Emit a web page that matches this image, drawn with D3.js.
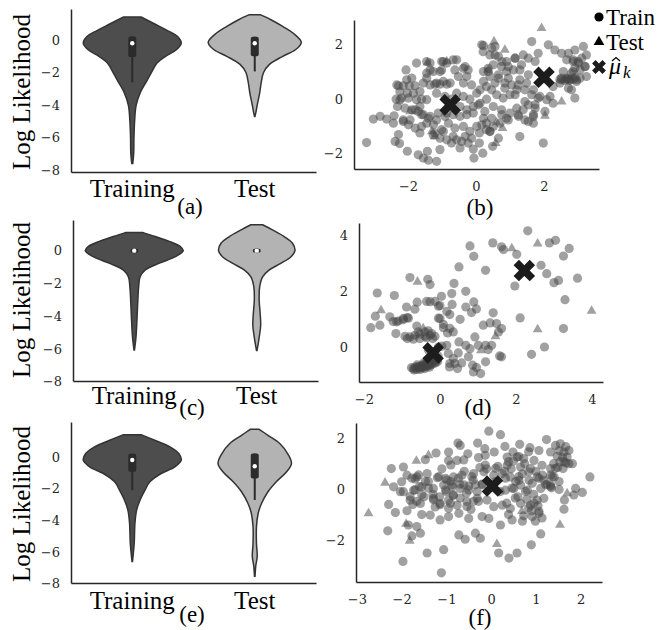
<!DOCTYPE html>
<html>
<head>
<meta charset="utf-8">
<script src="https://cdn.jsdelivr.net/npm/d3@7"></script>
<style>
  body { margin: 0; background: #fff; }
  svg { display: block; }
</style>
</head>
<body>
<svg id="chart" width="657" height="630"></svg>
<script>
// ---- data ----
const groups = ['Training', 'Test'];
const violinTicks = [0, -2, -4, -6, -8];

// violin outlines: [log likelihood, relative half-width]
const profA_train = [[1.42,0.18],[1.0,0.45],[0.6,0.71],[0.2,0.93],[-0.2,1.0],[-0.6,0.9],[-1.0,0.68],[-1.4,0.51],[-2.0,0.39],[-2.6,0.28],[-3.2,0.17],[-4.0,0.08],[-4.9,0.05],[-6.0,0.035],[-6.95,0.03],[-7.6,0.01]];
const profA_test = [[1.56,0.11],[1.25,0.33],[0.84,0.57],[0.43,0.78],[-0.14,0.95],[-0.6,0.83],[-1.0,0.57],[-1.5,0.3],[-2.0,0.18],[-2.65,0.13],[-3.26,0.1],[-4.0,0.05],[-4.5,0.02],[-4.7,0.005]];
const profC_train = [[1.1,0.18],[0.86,0.43],[0.55,0.73],[0.25,0.94],[0,1.0],[-0.37,0.84],[-0.78,0.5],[-1.19,0.22],[-1.6,0.12],[-2.2,0.09],[-3.24,0.07],[-4.26,0.055],[-5.3,0.035],[-6.06,0.005]];
const profC_test = [[1.58,0.12],[1.27,0.32],[0.86,0.56],[0.45,0.73],[0,0.78],[-0.37,0.7],[-0.78,0.49],[-1.19,0.25],[-1.6,0.12],[-2.2,0.06],[-3.03,0.05],[-3.85,0.07],[-4.57,0.08],[-5.29,0.05],[-6.1,0.005]];
const profE_train = [[1.4,0.18],[1.05,0.46],[0.63,0.77],[0.21,0.95],[-0.21,1.0],[-0.63,0.87],[-1.05,0.59],[-1.57,0.36],[-2.1,0.26],[-2.72,0.16],[-3.35,0.09],[-4.19,0.055],[-5.45,0.04],[-6.6,0.005]];
const profE_test = [[1.74,0.09],[1.36,0.27],[0.84,0.51],[0.21,0.67],[-0.42,0.75],[-0.94,0.65],[-1.57,0.44],[-2.2,0.27],[-2.93,0.14],[-3.56,0.07],[-4.4,0.035],[-5.45,0.035],[-6.28,0.05],[-6.9,0.02],[-7.54,0.005]];

// inner boxes: [whisker low, q1, median, q3, whisker high]
const boxA_train = [-2.6, -1.05, -0.2, 0.22, 0.22];
const boxA_test = [-1.93, -1.0, -0.2, 0.2, 0.2];
const boxC_train = [-0.15, -0.12, 0, 0.12, 0.15];
const boxC_test = [-0.15, -0.12, 0, 0.12, 0.15];
const boxE_train = [-2.1, -0.94, -0.2, 0.2, 0.2];
const boxE_test = [-2.72, -1.36, -0.59, 0.21, 0.21];

// scatter (b)
const trainB = [
  [-3.22,-1.59],[-3.02,-0.73],[-2.82,-0.63],[-2.63,-0.73],[-2.41,-0.61],[-2.38,-1.55],[-2.28,-1.30],[-2.25,-1.63],[-2.02,-1.91],[-1.70,-2.04],
  [-1.55,-2.16],[-1.40,-2.24],[-1.16,-2.28],[-1.43,-1.91],[-1.06,-1.85],[-0.72,-1.61],[-0.47,-1.79],[-0.23,-1.61],[-0.06,-2.16],[-0.08,-1.83],
  [0.20,-1.98],[0.49,-1.73],[0.10,-1.61],
  [-2.28,0.49],[-2.14,0.49],[-1.96,0.49],[-1.79,0.49],[-1.55,0.59],[-1.35,0.52],[-1.16,0.59],[-0.96,0.65],[-0.76,0.59],
  [-2.35,0.00],[-2.19,0.04],[-1.99,0.04],[-1.75,-0.02],[-1.60,0.00],[-1.45,-0.02],
  [-2.24,0.28],[-2.02,0.22],[-1.84,0.22],[-1.65,0.28],
  [-2.31,-0.27],[-2.09,-0.33],[-1.89,-0.39],[-1.65,-0.27],
  [-2.06,1.07],[-1.75,1.32],[-1.45,1.38],[-1.35,1.07],[-1.01,1.38],[-0.86,1.32],[-0.67,1.44],[-0.37,1.13],[-0.23,1.07],[-0.62,1.07],
  [-1.06,1.01],[-1.45,0.77],[-1.89,0.77],[-2.04,0.71],
  [-1.70,-0.45],[-1.55,-0.57],[-1.35,-0.63],[-1.11,-0.51],[-0.86,-0.51],[-0.67,-0.57],[-0.47,-0.63],[-0.27,-0.57],[-0.08,-0.51],
  [-2.14,-0.76],[-1.99,-0.94],[-1.79,-1.06],[-1.60,-1.00],[-1.45,-0.88],[-1.25,-0.94],[-1.01,-1.12],[-0.81,-0.88],[-0.62,-1.06],[-0.37,-1.00],[-0.18,-1.18],
  [-1.65,-1.24],[-1.21,-1.24],[-1.06,-1.43],[-0.86,-1.49],[-0.57,-1.49],[-0.32,-1.37],[-0.13,-1.43],[0.10,-1.24],[0.31,-1.12],
  [-1.16,0.22],[-0.91,0.10],[-0.72,0.00],[-0.57,0.22],[-0.37,0.10],[-0.18,0.00],[-0.47,-0.27],[-0.27,-0.39],[-0.08,-0.27],[0.12,-0.15],
  [0.31,0.00],[0.02,0.22],[-0.13,0.52],[-0.37,0.59],[-0.52,0.83],[-0.27,0.83],
  [-2.33,0.52],[-2.24,-0.03],[-1.21,0.55],[-1.06,0.55],[-0.86,0.55],[-1.45,0.95],[-1.26,1.01],[-1.01,1.07],[-1.35,1.32],[-0.96,1.38],
  [-0.57,1.44],[-0.32,1.19],[-1.79,-0.39],[-1.60,-0.57],[-1.40,-0.70],[-1.16,-0.76],[-0.91,-0.64],[-1.26,-1.31],[-0.96,-1.19],[-0.67,-1.37],
  [-0.42,-1.55],[-2.14,-0.82],[-1.94,-0.76],[-2.43,-0.88],
  [0.22,1.96],[0.46,1.87],[0.41,1.62],[0.66,1.56],[0.90,1.38],[1.15,1.50],[1.39,1.62],[1.64,2.11],[1.83,1.68],[2.13,1.99],
  [2.32,1.80],[2.52,1.68],[2.72,1.68],[2.91,1.80],[3.16,1.93],[3.25,1.62],[2.86,1.38],[2.67,1.44],[3.01,1.32],[3.21,1.20],
  [3.06,1.07],[3.25,0.83],[2.86,1.01],[2.57,1.01],[2.67,0.77],[2.47,0.73],[2.76,0.71],[2.96,0.65],[2.81,0.34],[2.91,0.04],
  [2.72,0.40],[2.47,0.59],[2.27,0.46],[2.18,0.10],[2.27,-0.15],[2.08,-0.02],[1.88,0.10],[1.69,0.34],[1.49,0.59],[1.29,0.71],
  [1.54,0.89],[1.29,1.07],[1.10,1.07],[0.90,1.01],[0.75,1.20],[0.51,1.26],[0.36,1.13],[0.22,1.01],[0.41,0.83],[0.66,0.77],
  [0.85,0.59],[1.05,0.52],[1.20,0.34],[1.00,0.16],[0.80,0.04],[0.61,0.16],[0.46,0.34],[0.31,0.46],[0.22,0.65],[0.12,0.34],
  [0.51,-0.27],[0.75,-0.39],[1.00,-0.51],[1.20,-0.33],[1.39,-0.39],[1.54,-0.21],[1.74,-0.33],[1.69,-0.57],[1.44,-0.76],[1.25,-0.63],
  [0.90,-0.70],[0.71,-0.88],[0.51,-1.00],[0.31,-0.88],[0.22,-0.70],[0.02,-1.00],[0.41,-1.18],[1.29,-1.37],[1.98,-1.61],[1.69,-0.88],
  [1.83,0.04],
  [2.67,0.73],[2.86,0.73],[3.06,0.77],[2.52,0.71],[2.62,0.68],[2.76,0.68],[2.96,0.71],
  [2.52,0.77],[2.72,0.74],[2.91,0.79],[2.81,0.95],[3.01,1.38],[2.86,1.44],[3.11,1.50],[3.21,1.19],[2.91,1.14],
  [0.17,1.99],[0.56,1.93],[0.21,1.74],[0.56,1.62],[0.76,1.38],[0.95,1.19],[1.15,1.50],[1.34,1.26],[1.54,1.50],[1.74,1.38],
  [0.36,1.01],[0.66,0.89],[0.95,0.77],[1.24,0.52],[1.44,0.34],[1.64,0.16],[0.85,0.40],[0.56,0.59],[1.15,0.16],[1.44,-0.09],
  [1.74,-0.21],[2.03,-0.45],[0.07,-0.21],[0.26,-0.45],[0.46,-0.70],[0.76,-0.57],[0.17,-0.94],[0.41,-1.19],[0.66,-1.43],[0.95,-0.76],
  [1.24,-0.57],[1.54,-0.82],[1.69,-0.64]
];
const testB = [[1.93,2.60],[0.53,2.11],[0.85,1.80],[0.36,1.07],[2.52,-0.09],[2.03,-0.61],[0.61,-0.85],[0.78,-1.06],[0.58,-1.61],[-1.43,1.34],[-0.86,1.38],[-1.30,-1.18],[-1.21,-1.37],[-1.94,-0.45]];
const meansB = [[-0.76,-0.21],[2.0,0.8]];

// scatter (d)
const trainD = [
  [2.31,4.17],[0.79,3.63],[0.89,3.26],[1.39,3.74],[1.62,3.60],[1.67,3.50],[2.02,3.33],[2.88,3.74],[3.04,3.83],[3.40,3.54],
  [3.25,3.27],[2.66,2.94],[2.81,2.64],[3.00,2.32],[3.12,2.40],[3.62,2.48],[3.29,1.71],[1.97,2.20],[2.11,1.06],[3.25,0.68],
  [2.75,0.02],[2.41,-0.24],[1.20,2.76],[0.50,2.88],
  [-1.65,1.95],[-1.20,1.86],[-0.79,2.50],[-0.32,2.44],[-0.26,2.25],[0.37,2.29],[0.68,2.01],[0.31,1.93],[0.04,1.83],[-0.35,1.65],
  [-0.60,1.62],[-0.13,1.65],[-0.04,1.48],[0.32,1.54],[0.68,1.45],[0.89,1.63],[0.96,1.38],[0.83,1.25],[-0.88,1.45],[-0.66,1.37],
  [-1.32,1.10],[-1.14,0.92],[-0.96,1.04],[-0.86,1.07],[-1.70,1.12],[-1.58,0.80],[-1.82,0.71],[-1.16,0.50],[-0.61,0.77],[-0.31,0.60],
  [0.00,1.04],[0.09,0.71],[0.26,1.18],[0.53,1.01],[0.35,0.56],[0.20,0.52],[0.92,0.38],[1.14,0.80],[1.40,1.24],[1.32,0.88],
  [1.49,0.86],[1.62,0.68],[1.54,0.56],[0.50,0.20],[0.68,0.08],[0.79,-0.04],[1.01,0.08],[1.20,0.08],[1.36,0.08],[1.27,-0.07],
  [1.57,-0.30],[1.62,-0.33],[0.75,-0.33],[0.48,-0.19],[0.22,-0.21],[0.35,-0.39],[0.18,0.08],[-0.04,0.02],[0.26,-0.57],[0.39,-0.57],
  [0.57,-0.55],[0.25,-0.69],[0.46,-0.75],[0.86,-0.63],[0.96,-0.71],[0.88,-0.87],[1.07,-0.93],[1.20,-0.51],
  [-0.92,0.40],[-0.79,0.38],[-0.66,0.44],[-0.53,0.48],[-0.39,0.40],[-0.26,0.44],[-0.13,0.40],[-0.86,0.32],[-0.70,0.30],[-0.53,0.32],
  [-0.35,0.35],[-0.19,0.32],[-0.57,0.56],[-0.39,0.56],[-0.22,0.50],
  [-1.23,0.93],[-1.10,0.95],[-0.97,0.99],[-0.83,1.05],[-0.26,1.64],[0.00,1.50],[0.18,1.29],[-0.04,1.05],[0.09,0.83],[0.26,0.69],
  [-0.75,-0.72],[-0.70,-0.75],[-0.65,-0.70],[-0.62,-0.78],[-0.58,-0.68],[-0.55,-0.74],[-0.50,-0.66],[-0.48,-0.72],[-0.45,-0.62],[-0.42,-0.70],
  [-0.38,-0.60],[-0.36,-0.68],[-0.32,-0.58],[-0.30,-0.65],[-0.26,-0.55],[-0.24,-0.62],[-0.20,-0.52],[-0.18,-0.58],[-0.14,-0.48],[-0.12,-0.55],
  [-0.08,-0.44],[-0.06,-0.50],[-0.68,-0.80],[-0.52,-0.78],[-0.40,-0.75],[-0.28,-0.70],[-0.60,-0.62],[-0.44,-0.56],[-0.34,-0.50],[-0.22,-0.45],
  [-0.10,-0.38],[-0.56,-0.70],[-0.46,-0.66],[-0.36,-0.62],[-0.26,-0.60],
  [-0.30,-0.10],[-0.05,-0.30],[0.05,0.05]
];
const testD = [[2.57,3.71],[1.89,3.54],[3.99,1.31],[2.57,0.65],[-0.59,2.35],[-1.55,1.33],[-0.44,0.68],[1.46,0.40],[1.08,-0.10]];
const meansD = [[-0.18,-0.19],[2.22,2.75]];

// scatter (f)
const trainF = [
  [-2.31,-1.64],[-1.97,-2.84],[-1.11,-3.29],[-1.06,-2.38],[-1.43,-2.51],[-1.77,-1.84],[-1.58,-1.73],[-0.72,-1.80],[-0.58,-1.97],[-0.35,-1.73],
  [-0.24,-1.93],[0.17,-2.51],[0.40,-2.71],[0.58,-2.51],[0.90,-2.19],[1.11,-1.76],[-0.05,2.28],[0.21,2.14],[1.24,1.95],[2.21,0.48],
  [2.04,-0.13],[1.89,0.03],[1.85,-0.23],[1.64,-0.43],[1.63,-0.79],[-2.29,-0.60],[-2.23,0.81],[-2.18,0.09],[-1.96,0.87],[-2.00,0.29],
  [-2.03,-0.10],[-2.14,-0.92],[-1.88,-0.85],[-1.85,-1.41],[-1.66,-1.47],[-1.47,1.16],[-1.23,1.42],[-0.95,1.46],[-0.74,1.81],[-0.69,1.72],
  [-0.52,1.39],[-0.30,1.81],[-0.14,1.59],[0.07,1.46],[0.31,1.68],[0.49,1.46],[0.64,1.76],[0.87,1.63],[1.07,1.52],[1.33,1.46],
  [1.44,1.72],[1.55,1.78],[1.67,1.67],[1.52,1.52],[1.63,1.46],[1.74,1.52],[1.48,1.29],[1.60,1.24],[1.70,1.26],[1.54,1.07],
  [1.67,1.03],[1.40,1.00],[1.74,1.00],[1.49,0.85],[1.61,0.81],[1.82,1.00],
  [-0.95,1.13],[-0.76,1.13],[-0.61,1.15],[-0.28,1.24],[-0.13,1.33],[0.36,1.26],[0.58,1.26],[0.73,1.20],[0.96,1.13],[0.36,0.94],
  [0.66,0.87],[0.88,0.81],[1.14,0.94],[1.33,0.81],
  [-1.88,0.55],[-1.66,0.48],[-1.43,0.61],[-1.02,0.42],[-0.84,0.48],[-0.65,0.55],[-0.39,0.61],[-0.16,0.68],[0.06,0.55],[0.25,0.61],
  [0.43,0.48],[0.62,0.35],[0.84,0.68],[1.03,0.48],[1.18,0.35],[1.33,0.55],[1.41,0.48],
  [-1.96,-0.10],[-1.73,-0.04],[-1.55,0.09],[-1.29,0.03],[-1.06,0.16],[-0.87,0.09],[-0.69,0.03],[-0.50,0.12],[-0.31,-0.10],[0.32,-0.04],
  [0.51,0.03],[0.66,0.16],[0.81,-0.04],[1.11,0.03],[1.33,0.16],[1.52,-0.01],
  [-1.81,-0.43],[-1.58,-0.56],[-1.29,-0.36],[-1.14,-0.56],[-0.95,-0.43],[-0.76,-0.63],[-0.54,-0.49],[-0.31,-0.36],[-0.09,-0.43],[0.06,-0.69],
  [0.25,-0.63],[0.43,-0.76],[0.66,-0.56],[0.88,-0.63],[1.03,-0.43],[1.18,-0.36],
  [-1.36,-1.02],[-1.14,-1.21],[-0.95,-1.08],[-0.72,-0.95],[-0.50,-1.15],[-0.20,-1.08],[-0.05,-1.15],[0.21,-1.41],[0.47,-1.21],[0.73,-1.05],
  [0.92,-1.08],[1.07,-0.95],
  [-1.30,-0.20],[-1.15,-0.30],[-1.00,-0.10],[-0.85,-0.25],[-1.40,0.30],[-1.20,0.45],[-0.90,0.30],[-0.70,0.20],[-0.55,-0.15],[-0.40,0.35],
  [-0.20,0.20],[-0.10,0.80],[-0.25,0.85],[0.15,0.90],[0.30,0.70],[0.45,0.80],[0.55,0.30],[0.70,0.60],[0.85,0.35],[1.00,0.70],
  [1.15,0.55],[0.95,-0.20],[0.80,-0.40],[1.05,-0.65],[0.90,-0.85],[0.60,-0.30],[0.35,-0.55],[-1.60,0.10],[-1.70,0.40],[-1.50,-0.30],
  [-1.75,-0.60],[-1.55,-1.00],[-1.25,-0.70],[-0.95,-0.75],[-0.45,-0.80],[-0.60,0.70],[-0.90,0.95],[-1.10,0.80],[0.10,0.30],[0.20,-0.10],
  [1.25,0.20],[1.35,0.05],[0.50,1.10],[0.75,1.00],
  [-1.77,0.43],[-1.62,0.56],[-1.47,0.30],[-1.70,-0.03],[-1.55,-0.22],[-1.40,0.04],[-1.29,-0.42],[-1.66,-0.48],[-1.81,-0.29],[-1.17,0.49],
  [-0.99,0.36],[-0.87,0.17],[-1.02,-0.03],[-0.84,-0.22],[-1.14,-0.61],[-0.91,-0.55],[-0.73,0.43],[-0.61,0.17],[-0.50,-0.03],[-0.69,-0.35],
  [-0.54,-0.68],[-0.39,-0.48],[-0.35,0.17],[-0.43,0.49],
  [-0.20,0.17],[-0.28,-0.48],[0.32,0.43],[0.47,0.04],[0.62,0.49],[0.77,-0.09],[0.92,0.23],[1.07,0.43],[1.22,0.17],[1.37,0.49],
  [1.52,0.30],[0.96,-0.55],[0.84,-0.74],[1.07,-0.87],[0.54,-0.35],[0.39,-1.00],[0.70,-1.26],[0.99,-1.26],[1.14,-1.13],[1.33,0.10],
  [1.63,1.08],[1.44,0.82],[-0.13,0.95],[0.10,0.82],[0.39,1.08],[0.62,1.28],[0.84,1.47]
];
const testF = [[-2.74,-0.95],[-2.37,0.25],[-1.82,-2.03],[0.13,-2.16],[1.54,-1.41],[1.70,-0.17],[-1.67,1.11],[-1.40,1.33],[-1.90,-1.37],[0.69,-0.87]];
const meansF = [[0.03,0.12]];

// ---- layout ----
const svg = d3.select('#chart');
const serif = "'Liberation Serif', 'Times New Roman', serif";
const tickFont = "'DejaVu Serif', serif";
const ink = '#262626';
const pointColor = '#444';
const intFmt = d3.format('d');

const violinPanels = [
  { left: 71, right: 316, top: 9, bottom: 172, yDomain: [-8.12, 1.91], catY: 197, titleY: 92,
    label: '(a)', labelX: 190, labelY: 214,
    series: [[profA_train, boxA_train], [profA_test, boxA_test]] },
  { left: 73, right: 318, top: 220, bottom: 381, yDomain: [-7.96, 1.87], catY: 404, titleY: 300,
    label: '(c)', labelX: 192, labelY: 415,
    series: [[profC_train, boxC_train], [profC_test, boxC_test]] },
  { left: 71, right: 316, top: 422, bottom: 583, yDomain: [-7.96, 2.2], catY: 609, titleY: 504,
    label: '(e)', labelX: 192, labelY: 622,
    series: [[profE_train, boxE_train], [profE_test, boxE_test]] }
];

const scatterPanels = [
  { left: 354, right: 599, top: 20, bottom: 169, xDomain: [-3.59, 3.62], yDomain: [-2.56, 2.9],
    xTicks: [-2, 0, 2], yTicks: [-2, 0, 2], label: '(b)', labelX: 480, labelY: 215,
    train: trainB, test: testB, means: meansB },
  { left: 359, right: 603, top: 223, bottom: 382, xDomain: [-2.13, 4.29], yDomain: [-1.23, 4.45],
    xTicks: [-2, 0, 2, 4], yTicks: [0, 2, 4], label: '(d)', labelX: 478, labelY: 415,
    train: trainD, test: testD, means: meansD },
  { left: 356, right: 602, top: 423, bottom: 582, xDomain: [-3.02, 2.48], yDomain: [-3.65, 2.6],
    xTicks: [-3, -2, -1, 0, 1, 2], yTicks: [-2, 0, 2], label: '(f)', labelX: 480, labelY: 625,
    train: trainF, test: testF, means: meansF }
];

const fills = ['#4d4d4d', '#b3b3b3'];

const styleAxis = (g) => {
  g.attr('font-family', null);
  g.select('.domain').attr('stroke', ink).attr('stroke-width', 1.5);
  g.selectAll('.tick line').remove();
  g.selectAll('.tick text')
    .attr('fill', ink)
    .attr('font-family', tickFont)
    .style('font-family', tickFont)
    .style('font-size', '13px');
};

const drawViolinPanel = (p) => {
  const y = d3.scaleLinear().domain(p.yDomain).range([p.bottom, p.top]);
  const x = d3.scaleBand().domain(groups).range([p.left, p.right]).padding(0);
  const half = d3.scaleLinear().domain([0, 1]).range([0, x.bandwidth() * 0.4]);
  const g = svg.append('g');

  p.series.forEach(([profile, box], i) => {
    const cx = x(groups[i]) + x.bandwidth() / 2;
    const area = d3.area()
      .curve(d3.curveCatmullRom.alpha(0.5))
      .y((d) => y(d[0]))
      .x0((d) => cx - half(d[1]))
      .x1((d) => cx + half(d[1]));

    g.append('path')
      .datum(profile)
      .attr('d', area)
      .attr('fill', fills[i])
      .attr('stroke', '#333')
      .attr('stroke-width', 1.5);

    // whisker + box + median
    g.append('line')
      .attr('x1', cx).attr('x2', cx)
      .attr('y1', y(box[0])).attr('y2', y(box[4]))
      .attr('stroke', '#2b2b2b')
      .attr('stroke-width', 2);
    g.append('rect')
      .attr('x', cx - 4)
      .attr('width', 8)
      .attr('y', y(box[3]))
      .attr('height', y(box[1]) - y(box[3]))
      .attr('rx', 2)
      .attr('fill', '#2b2b2b');
    g.append('circle')
      .attr('cx', cx)
      .attr('cy', y(box[2]))
      .attr('r', 2.2)
      .attr('fill', '#fff');
  });

  g.append('g')
    .attr('transform', `translate(${p.left},0)`)
    .call(d3.axisLeft(y).tickValues(violinTicks).tickFormat(intFmt).tickSize(0).tickSizeOuter(0).tickPadding(11))
    .call(styleAxis);

  const xa = g.append('g')
    .attr('transform', `translate(0,${p.bottom})`)
    .call(d3.axisBottom(x).tickSize(0).tickSizeOuter(0))
    .call(styleAxis);
  xa.selectAll('.tick text')
    .attr('y', p.catY - p.bottom)
    .attr('dy', 0)
    .style('font-family', serif)
    .style('font-size', '25px')
    .attr('fill', '#000');

  g.append('text')
    .attr('transform', `translate(30,${p.titleY}) rotate(-90)`)
    .attr('text-anchor', 'middle')
    .style('font-family', serif)
    .style('font-size', '25px')
    .text('Log Likelihood');

  g.append('text')
    .attr('x', p.labelX)
    .attr('y', p.labelY)
    .attr('text-anchor', 'middle')
    .style('font-family', serif)
    .style('font-size', '23px')
    .text(p.label);
};

const crossPath = (size) => d3.symbol(d3.symbolCross, size)();

const drawScatterPanel = (p) => {
  const x = d3.scaleLinear().domain(p.xDomain).range([p.left, p.right]);
  const y = d3.scaleLinear().domain(p.yDomain).range([p.bottom, p.top]);
  const g = svg.append('g');

  g.append('g')
    .selectAll('circle')
    .data(p.train)
    .join('circle')
    .attr('cx', (d) => x(d[0]))
    .attr('cy', (d) => y(d[1]))
    .attr('r', 4.6)
    .attr('fill', pointColor)
    .attr('fill-opacity', 0.5);

  const tri = d3.symbol(d3.symbolTriangle, 42)();
  g.append('g')
    .selectAll('path')
    .data(p.test)
    .join('path')
    .attr('d', tri)
    .attr('transform', (d) => `translate(${x(d[0])},${y(d[1])})`)
    .attr('fill', pointColor)
    .attr('fill-opacity', 0.5);

  g.append('g')
    .selectAll('path')
    .data(p.means)
    .join('path')
    .attr('d', crossPath(290))
    .attr('transform', (d) => `translate(${x(d[0])},${y(d[1])}) rotate(45)`)
    .attr('fill', '#1c1c1c');

  g.append('g')
    .attr('transform', `translate(${p.left},0)`)
    .call(d3.axisLeft(y).tickValues(p.yTicks).tickFormat(intFmt).tickSize(0).tickSizeOuter(0).tickPadding(11))
    .call(styleAxis);

  g.append('g')
    .attr('transform', `translate(0,${p.bottom})`)
    .call(d3.axisBottom(x).tickValues(p.xTicks).tickFormat(intFmt).tickSize(0).tickSizeOuter(0).tickPadding(13))
    .call(styleAxis);

  g.append('text')
    .attr('x', p.labelX)
    .attr('y', p.labelY)
    .attr('text-anchor', 'middle')
    .style('font-family', serif)
    .style('font-size', '23px')
    .text(p.label);
};

violinPanels.forEach(drawViolinPanel);
scatterPanels.forEach(drawScatterPanel);

// legend (top right, beside panel b)
const legend = svg.append('g').attr('transform', 'translate(599,0)');
legend.append('circle').attr('cx', 0).attr('cy', 17).attr('r', 4.6).attr('fill', '#000');
legend.append('path').attr('d', d3.symbol(d3.symbolTriangle, 50)()).attr('transform', 'translate(0,42)').attr('fill', '#000');
legend.append('path').attr('d', crossPath(120)).attr('transform', 'translate(0,67) rotate(45)').attr('fill', '#1c1c1c');

const legendText = (xPos, yPos, size) => legend.append('text')
  .attr('x', xPos)
  .attr('y', yPos)
  .style('font-family', serif)
  .style('font-size', size);

legendText(7, 25, '23px').text('Train');
legendText(7, 50, '23px').text('Test');
legendText(10, 74, '24px').style('font-style', 'italic').text('\u03bc');
legendText(24, 78, '17px').style('font-style', 'italic').text('k');
// hat over mu
legend.append('path')
  .attr('d', 'M13,61 L17,57.5 L21,61')
  .attr('fill', 'none')
  .attr('stroke', '#000')
  .attr('stroke-width', 1.2);
</script>
</body>
</html>
